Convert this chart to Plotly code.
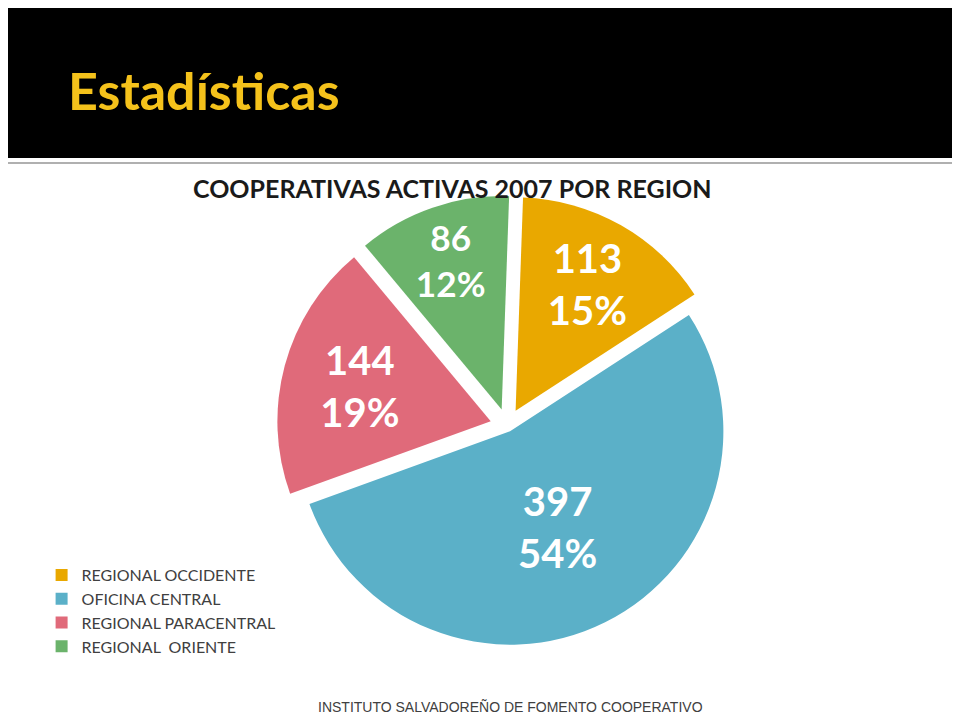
import plotly.graph_objects as go

regions = ["REGIONAL OCCIDENTE", "OFICINA CENTRAL", "REGIONAL PARACENTRAL", "REGIONAL  ORIENTE"]
counts = [113, 397, 144, 86]
colors = ["#E9A800", "#5BB0C8", "#E06A7A", "#6BB36B"]

fig = go.Figure(go.Pie(
    labels=regions, values=counts, sort=False, direction="clockwise", rotation=2,
    marker=dict(colors=colors, line=dict(color="white", width=0)),
    pull=[0.08, 0.03, 0.08, 0.08],
    texttemplate="<b>%{value}<br>%{percent:.0%}</b>", textposition="inside",
    insidetextorientation="horizontal",
    textfont=dict(family="Lato", size=40, color="white"),
    domain=dict(x=[0.12, 0.92], y=[0.1, 0.74]),
))

fig.update_layout(
    width=960, height=720, margin=dict(l=0, r=0, t=0, b=0),
    paper_bgcolor="white", font=dict(family="Lato"),
    showlegend=True,
    legend=dict(x=0.035, y=1 - 550 / 720, xanchor="left", yanchor="top",
                font=dict(size=16, color="#404040"), tracegroupgap=0),
    shapes=[
        dict(type="rect", xref="paper", yref="paper", x0=-0.02, x1=1.02, y0=1 - 150 / 720, y1=1.02,
             fillcolor="black", line=dict(width=0), layer="below"),
        dict(type="line", xref="paper", yref="paper", x0=0, x1=1, y0=1 - 155 / 720, y1=1 - 155 / 720,
             line=dict(color="#B0B0B0", width=2)),
    ],
    annotations=[
        dict(text="<b>Estadísticas</b>", xref="paper", yref="paper", x=58 / 960, y=1 - 82 / 720,
             xanchor="left", yanchor="middle", showarrow=False,
             font=dict(family="Lato", size=52, color="#F5C21B")),
        dict(text="<b>COOPERATIVAS ACTIVAS 2007 POR REGION</b>", xref="paper", yref="paper",
             x=0.463, y=1 - 180 / 720, xanchor="center", yanchor="middle",
             showarrow=False, font=dict(family="Lato", size=25, color="#1a1a1a")),
        dict(text="INSTITUTO SALVADOREÑO DE FOMENTO COOPERATIVO", xref="paper", yref="paper",
             x=0.523, y=1 - 699 / 720, xanchor="center", yanchor="middle", showarrow=False,
             font=dict(family="Liberation Sans", size=14, color="#404040")),
    ],
)

fig.write_html("out.html")
